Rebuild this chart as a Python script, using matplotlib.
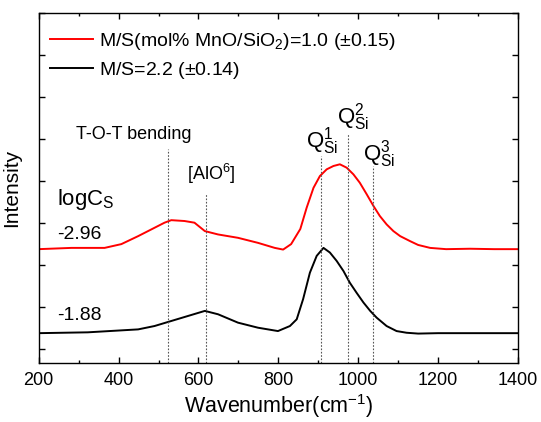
import matplotlib
matplotlib.use("Agg")
import matplotlib.pyplot as plt
from matplotlib.ticker import MultipleLocator

plt.rcParams['font.family'] = ['Liberation Sans', 'DejaVu Sans']
plt.rcParams['mathtext.fontset'] = 'custom'
plt.rcParams['mathtext.rm'] = 'Liberation Sans'
plt.rcParams['mathtext.it'] = 'Liberation Sans'

# Red spectrum: M/S = 1.0
wn_red = [200, 282, 365, 407, 449, 482, 515, 532, 565, 590, 616, 649, 699, 749, 791,
          812, 832, 855, 871, 888, 904, 921, 938, 954, 971, 988, 1004, 1021, 1038,
          1054, 1071, 1088, 1105, 1130, 1150, 1180, 1220, 1280, 1340, 1400]
int_red = [2.37, 2.40, 2.40, 2.49, 2.68, 2.84, 3.00, 3.06, 3.04, 3.00, 2.80, 2.72,
           2.64, 2.52, 2.40, 2.36, 2.49, 2.85, 3.36, 3.83, 4.11, 4.27, 4.35, 4.39,
           4.31, 4.15, 3.95, 3.68, 3.40, 3.16, 2.96, 2.80, 2.68, 2.56, 2.47, 2.40,
           2.37, 2.38, 2.37, 2.37]

# Black spectrum: M/S = 2.2
wn_blk = [200, 323, 449, 490, 532, 574, 616, 649, 699, 749, 799, 829, 846, 862, 879,
          896, 913, 929, 946, 963, 979, 996, 1013, 1030, 1046, 1071, 1096, 1121, 1150,
          1200, 1300, 1400]
int_blk = [0.37, 0.39, 0.46, 0.54, 0.66, 0.78, 0.90, 0.82, 0.62, 0.50, 0.42, 0.54,
           0.70, 1.18, 1.81, 2.21, 2.40, 2.29, 2.09, 1.85, 1.57, 1.33, 1.10, 0.90,
           0.74, 0.54, 0.42, 0.38, 0.36, 0.37, 0.37, 0.37]

legend_labels = [r'M/S(mol% MnO/SiO$_2$)=1.0 ($\pm$0.15)', r'M/S=2.2 ($\pm$0.14)']
logcs_labels = ['-2.96', '-1.88']
band_positions = [525, 618, 908, 974, 1038]
band_tops = [4.75, 3.71, 4.59, 5.14, 4.35]

fig = plt.figure(figsize=(5.41, 4.22), dpi=100)
ax = fig.add_axes([0.0715, 0.1405, 0.886, 0.8295])

ax.plot(wn_red, int_red, color='#ff0000', lw=1.4, label=legend_labels[0])
ax.plot(wn_blk, int_blk, color='black', lw=1.4, label=legend_labels[1])

ax.set_xlim(200, 1400)
ax.set_ylim(-1/3, 8)

# dotted band lines
for x, t in zip(band_positions, band_tops):
    ax.plot([x, x], [-1/3, t], ls=(0, (1.5, 1.5)), color='#555555', lw=0.8)

ax.xaxis.set_major_locator(MultipleLocator(200))
ax.xaxis.set_minor_locator(MultipleLocator(100))
ax.yaxis.set_major_locator(MultipleLocator(1))
ax.tick_params(axis='both', which='both', direction='in', top=True, right=True)
ax.tick_params(axis='both', which='major', length=4, width=1)
ax.tick_params(axis='x', which='minor', length=2.5, width=1)
ax.set_yticklabels([])
ax.tick_params(axis='x', labelsize=13, pad=7)
for s in ax.spines.values():
    s.set_linewidth(1.0)

ax.set_xlabel(r'Wavenumber(cm$^{-1}$)', fontsize=15.5, labelpad=2)
ax.set_ylabel('Intensity', fontsize=15, labelpad=9)

leg = ax.legend(loc='upper left', frameon=False, fontsize=14, handlelength=2.2,
                borderaxespad=0.55, labelspacing=0.4, handletextpad=0.3,
                borderpad=0.4, bbox_to_anchor=(-0.015, 1.0))

ax.text(437, 5.1, 'T-O-T bending', fontsize=13, ha='center', va='center')
ax.text(633, 4.15, r'[AlO$^{6}$]', fontsize=13, ha='center', va='center')
ax.text(245, 3.56, r'logC$_{\rm S}$', fontsize=16, ha='left', va='center')
ax.text(247, 2.73, logcs_labels[0], fontsize=14, ha='left', va='center')
ax.text(247, 0.78, logcs_labels[1], fontsize=14, ha='left', va='center')
ax.text(869, 4.78, r'Q$_{\rm Si}^{1}$', fontsize=16, ha='left', va='baseline')
ax.text(947, 5.35, r'Q$_{\rm Si}^{2}$', fontsize=16, ha='left', va='baseline')
ax.text(1012, 4.47, r'Q$_{\rm Si}^{3}$', fontsize=16, ha='left', va='baseline')

fig.savefig('out.png', dpi=100)
